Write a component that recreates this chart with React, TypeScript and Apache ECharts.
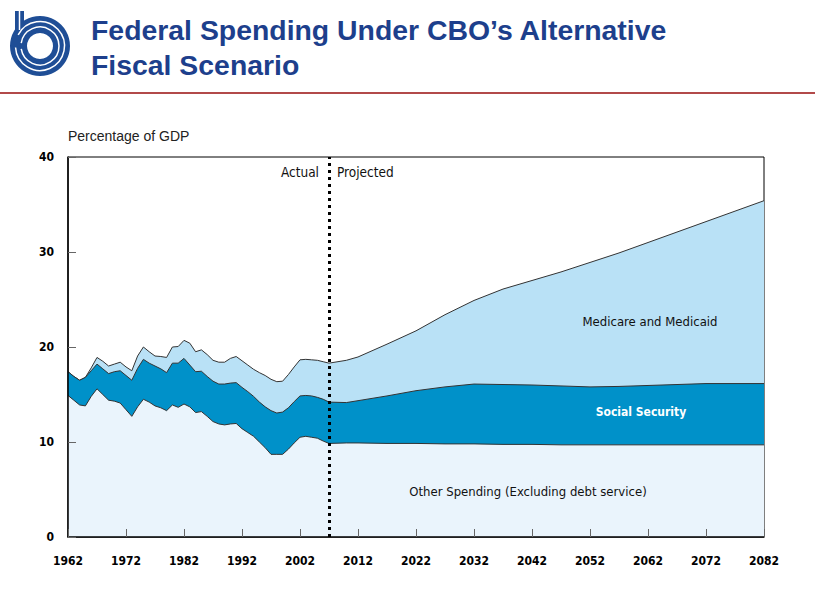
import React, { useEffect, useRef } from "react";
import * as echarts from "echarts";

const years = [
  1962, 1963, 1964, 1965, 1966, 1967, 1968, 1969, 1970, 1971, 1972, 1973, 1974, 1975, 1976,
  1977, 1978, 1979, 1980, 1981, 1982, 1983, 1984, 1985, 1986, 1987, 1988, 1989, 1990, 1991,
  1992, 1993, 1994, 1995, 1996, 1997, 1998, 1999, 2000, 2001, 2002, 2003, 2004, 2005, 2006,
  2007, 2010, 2012, 2017, 2022, 2027, 2032, 2037, 2042, 2047, 2052, 2057, 2062, 2067, 2072,
  2077, 2082,
];

// Other spending (excluding debt service), % of GDP
const otherSpending = [
  14.9, 14.4, 13.9, 13.8, 14.8, 15.6, 15.0, 14.4, 14.3, 14.1, 13.4, 12.7, 13.7, 14.5, 14.2,
  13.8, 13.6, 13.3, 13.9, 13.65, 14.0, 13.7, 13.1, 13.2, 12.7, 12.15, 11.9, 11.8, 11.9, 11.95,
  11.4, 11.0, 10.6, 10.0, 9.4, 8.7, 8.7, 8.7, 9.25, 9.9, 10.5, 10.6, 10.5, 10.4, 10.1,
  9.85, 9.9, 9.9, 9.85, 9.85, 9.8, 9.8, 9.75, 9.75, 9.7, 9.7, 9.7, 9.7, 9.7, 9.7,
  9.7, 9.7,
];

// Social Security, % of GDP
const socialSecurity = [
  2.5, 2.5, 2.6, 3.0, 2.7, 2.6, 2.7, 2.8, 3.1, 3.4, 3.6, 3.8, 4.05, 4.2, 4.1,
  4.2, 4.1, 4.0, 4.4, 4.65, 4.8, 4.4, 4.3, 4.25, 4.2, 4.25, 4.2, 4.3, 4.3, 4.3,
  4.35, 4.3, 4.2, 4.2, 4.3, 4.6, 4.35, 4.45, 4.35, 4.35, 4.35, 4.3, 4.35, 4.3, 4.4,
  4.35, 4.25, 4.45, 5.0, 5.55, 6.0, 6.3, 6.3, 6.25, 6.2, 6.1, 6.15, 6.25, 6.35, 6.45,
  6.45, 6.45,
];

// Medicare and Medicaid, % of GDP
const medicareMedicaid = [
  0, 0, 0, 0, 0.3, 0.7, 0.8, 0.8, 0.8, 0.9, 0.9, 1.0, 1.3, 1.3, 1.2,
  1.05, 1.3, 1.6, 1.7, 1.75, 1.9, 2.3, 2.1, 2.25, 2.3, 2.2, 2.3, 2.3, 2.6, 2.75,
  2.8, 2.8, 2.85, 3.1, 3.3, 3.3, 3.3, 3.25, 3.5, 3.65, 3.8, 3.8, 3.8, 3.9, 3.95,
  4.1, 4.45, 4.6, 5.45, 6.3, 7.6, 8.8, 10.05, 11.0, 12.0, 13.1, 14.05, 15.05, 16.05, 17.05,
  18.15, 19.25,
];

const xTicks = { min: 1962, max: 2082, interval: 10 };
const yTicks = { min: 0, max: 40, interval: 10 };
const projectionStart = 2007;

const seriesNames = ["Other Spending (Excluding debt service)", "Social Security", "Medicare and Medicaid"];
const seriesColors = ["#eaf4fc", "#0091c9", "#b9e1f6"];

const condensed = '"DejaVu Sans Condensed", "Liberation Sans Narrow", "Arial Narrow", sans-serif';
const sans = '"Liberation Sans", Arial, Helvetica, sans-serif';

export default function App() {
  const ref = useRef<HTMLDivElement>(null);

  useEffect(() => {
    if (!ref.current) return;
    const chart = echarts.init(ref.current, undefined, { renderer: "svg" });
    const layers = [otherSpending, socialSecurity, medicareMedicaid];

    // cumulative upper edges of each band
    const edges: number[][] = [];
    layers.forEach((arr, k) => {
      edges.push(arr.map((v, i) => +((k > 0 ? edges[k - 1][i] : 0) + v).toFixed(3)));
    });

    // draw the tallest band first, each filled down to zero, so smaller ones overlay it
    const series: any[] = [2, 1, 0].map((k, order) => ({
      name: seriesNames[k],
      type: "line",
      symbol: "none",
      data: years.map((y, i) => [y, edges[k][i]]),
      lineStyle: { color: "#333333", width: 1 },
      areaStyle: { color: seriesColors[k], opacity: 1, origin: "start" },
      z: 2 + order,
    }));
    series[2].markLine = {
      silent: true,
      symbol: "none",
      label: { show: false },
      lineStyle: { color: "#000", type: [3, 4], width: 3 },
      data: [{ xAxis: projectionStart }],
      z: 10,
    };

    chart.setOption({
      animation: false,
      backgroundColor: "#ffffff",
      grid: {
        left: 68,
        right: 51,
        top: 157,
        bottom: 71,
        show: true,
        borderColor: "#000",
        borderWidth: 1,
        backgroundColor: "#ffffff",
      },
      xAxis: {
        type: "value",
        min: xTicks.min,
        max: xTicks.max,
        interval: xTicks.interval,
        axisLine: { show: true, onZero: false, lineStyle: { color: "#000", width: 1.5 } },
        axisTick: { show: true, inside: true, length: 8, lineStyle: { color: "#666", width: 1 } },
        splitLine: { show: false },
        axisLabel: {
          formatter: (v: number) => String(v),
          fontFamily: condensed,
          fontWeight: "bold",
          fontSize: 12,
          color: "#000",
          margin: 18,
        },
        z: 20,
      },
      yAxis: {
        type: "value",
        min: yTicks.min,
        max: yTicks.max,
        interval: yTicks.interval,
        axisLine: { show: true, lineStyle: { color: "#000", width: 1.5 } },
        axisTick: { show: true, inside: true, length: 8, lineStyle: { color: "#666", width: 1 } },
        splitLine: { show: false },
        axisLabel: {
          fontFamily: condensed,
          fontWeight: "bold",
          fontSize: 12,
          color: "#000",
          margin: 14,
        },
        z: 20,
      },
      series,
      graphic: {
        elements: [
          // logo
          { type: "ring", shape: { cx: 40, cy: 46, r: 30, r0: 13 }, style: { fill: "#1f4e96" }, z: 100 },
          { type: "rect", shape: { x: 15, y: 11, width: 9, height: 30 }, style: { fill: "#1f4e96" }, z: 100 },
          { type: "arc", shape: { cx: 40, cy: 46, r: 19, startAngle: -Math.PI * 0.95, endAngle: Math.PI * 0.95 }, style: { stroke: "#ffffff", lineWidth: 1.5, fill: "none" }, z: 101 },
          { type: "arc", shape: { cx: 40, cy: 46, r: 24.5, startAngle: -Math.PI * 0.85, endAngle: Math.PI * 0.98 }, style: { stroke: "#ffffff", lineWidth: 1.5, fill: "none" }, z: 101 },
          { type: "line", shape: { x1: 19.5, y1: 11, x2: 19.5, y2: 30 }, style: { stroke: "#ffffff", lineWidth: 1.5 }, z: 101 },
          // title
          {
            type: "text",
            left: 91,
            top: 12,
            z: 100,
            style: {
              text: "Federal Spending Under CBO\u2019s Alternative\nFiscal Scenario",
              fill: "#1d3f8c",
              font: `bold 28.4px ${sans}`,
              lineHeight: 35,
            },
          },
          // rule
          { type: "rect", shape: { x: 0, y: 92, width: 815, height: 2 }, style: { fill: "#b24a4a" }, z: 100 },
          // axis title
          {
            type: "text",
            left: 68,
            top: 129,
            z: 100,
            style: { text: "Percentage of GDP", fill: "#222", font: `14px ${sans}` },
          },
          // annotations
          {
            type: "text",
            x: 319,
            y: 172,
            z: 100,
            style: { text: "Actual", fill: "#111", font: `13.5px ${condensed}`, align: "right", verticalAlign: "middle" },
          },
          {
            type: "text",
            x: 337,
            y: 172,
            z: 100,
            style: { text: "Projected", fill: "#111", font: `13.5px ${condensed}`, align: "left", verticalAlign: "middle" },
          },
          {
            type: "text",
            x: 650,
            y: 321,
            z: 100,
            style: { text: "Medicare and Medicaid", fill: "#111", font: `13px ${condensed}`, align: "center", verticalAlign: "middle" },
          },
          {
            type: "text",
            x: 641,
            y: 412,
            z: 100,
            style: { text: "Social Security", fill: "#ffffff", font: `bold 12px ${condensed}`, align: "center", verticalAlign: "middle" },
          },
          {
            type: "text",
            x: 528,
            y: 491,
            z: 100,
            style: { text: "Other Spending (Excluding debt service)", fill: "#111", font: `13px ${condensed}`, align: "center", verticalAlign: "middle" },
          },
        ],
      },
    });

    return () => chart.dispose();
  }, []);

  return <div ref={ref} style={{ position: "absolute", left: 0, top: 0, width: 815, height: 608 }} />;
}
